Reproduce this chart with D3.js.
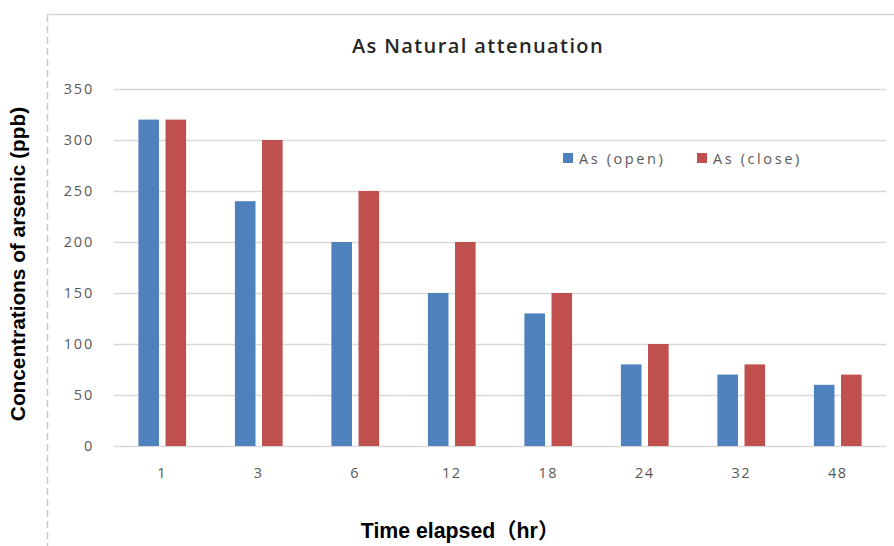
<!DOCTYPE html>
<html>
<head>
<meta charset="utf-8">
<script src="https://cdn.jsdelivr.net/npm/d3@7"></script>
<style>
  html, body { margin: 0; padding: 0; background: #fff; }
  svg { display: block; }
</style>
</head>
<body>
<svg id="chart" width="894" height="546"></svg>
<script>
// Arsenic concentration over time, open vs. closed vessels
const categories = ["1", "3", "6", "12", "18", "24", "32", "48"];
const seriesNames = ["As (open)", "As (close)"];
const openValues = [320, 240, 200, 150, 130, 80, 70, 60];
const closeValues = [320, 300, 250, 200, 150, 100, 80, 70];
const yTicks = [0, 50, 100, 150, 200, 250, 300, 350];
const colors = ["#4f81bd", "#c0504d"];

const rows = categories.map((c, i) => ({ cat: c, values: [openValues[i], closeValues[i]] }));

const svg = d3.select("#chart");
const W = 894, H = 546;
const plotLeft = 114, plotRight = 886, plotTop = 89, plotBottom = 446;
const labelFont = "'Open Sans', sans-serif";

// chart frame: dashed left edge and a thin top edge
svg.append("line")
  .attr("x1", 47.5).attr("x2", 47.5).attr("y1", 15).attr("y2", H)
  .attr("stroke", "#c8c8c8").attr("stroke-width", 1.5).attr("stroke-dasharray", "7,4");
svg.append("line")
  .attr("x1", 47).attr("x2", W).attr("y1", 14.5).attr("y2", 14.5)
  .attr("stroke", "#d9d9d9").attr("stroke-width", 1.5);

const x = d3.scaleBand().domain(categories).range([plotLeft, plotRight]).padding(0);
const x1 = d3.scaleBand().domain([0, 1]).range([0, x.bandwidth()]).paddingInner(0.24).paddingOuter(0.9);
const y = d3.scaleLinear().domain([0, 350]).range([plotBottom, plotTop]);

// horizontal gridlines with value labels
const yAxis = d3.axisLeft(y).tickValues(yTicks).tickSize(-(plotRight - plotLeft)).tickPadding(20);
const gy = svg.append("g").attr("transform", `translate(${plotLeft},0)`).call(yAxis);
gy.select(".domain").remove();
gy.selectAll(".tick line").attr("stroke", "#d9d9d9").attr("stroke-width", 1.5);
gy.selectAll(".tick text")
  .attr("fill", "#595959").attr("font-family", labelFont).attr("font-size", 14.5)
  .attr("letter-spacing", 1.8).attr("dy", "0.3em");

// bars
const groups = svg.append("g").selectAll("g").data(rows).join("g")
  .attr("transform", d => `translate(${x(d.cat)},0)`);
groups.selectAll("rect").data(d => d.values.map((v, k) => ({ v, k }))).join("rect")
  .attr("x", d => x1(d.k))
  .attr("width", x1.bandwidth())
  .attr("y", d => y(d.v))
  .attr("height", d => plotBottom - y(d.v))
  .attr("fill", d => colors[d.k]);

// category labels
const xAxis = d3.axisBottom(x).tickSize(0).tickPadding(22);
const gx = svg.append("g").attr("transform", `translate(0,${plotBottom})`).call(xAxis);
gx.select(".domain").remove();
gx.selectAll(".tick text")
  .attr("fill", "#595959").attr("font-family", labelFont).attr("font-size", 14.5)
  .attr("letter-spacing", 1.5);

// title
svg.append("text")
  .attr("x", 478).attr("y", 53).attr("text-anchor", "middle")
  .attr("font-family", labelFont).attr("font-size", 20).attr("font-weight", 600)
  .attr("letter-spacing", 1.4)
  .attr("fill", "#262626").text("As Natural attenuation");

// legend
const legend = svg.append("g");
const legendX = [563, 697];
seriesNames.forEach((name, k) => {
  legend.append("rect").attr("x", legendX[k]).attr("y", 153).attr("width", 10).attr("height", 10)
    .attr("fill", colors[k]);
  legend.append("text").attr("x", legendX[k] + 16).attr("y", 163.5)
    .attr("font-family", labelFont).attr("font-size", 14.5).attr("letter-spacing", 2.6)
    .attr("fill", "#595959").text(name);
});

// axis titles
svg.append("text")
  .attr("transform", "translate(25,264) rotate(-90)")
  .attr("text-anchor", "middle")
  .attr("font-family", "'Liberation Sans', Arial, sans-serif").attr("font-weight", "bold")
  .attr("font-size", 20.8).attr("fill", "#000")
  .text("Concentrations of arsenic (ppb)");

svg.append("text")
  .attr("x", 460).attr("y", 538).attr("text-anchor", "middle")
  .attr("font-family", "'Liberation Sans', Arial, 'Noto Sans CJK SC', sans-serif").attr("font-weight", "bold")
  .attr("font-size", 21.3).attr("fill", "#000")
  .text("Time elapsed（hr）");
</script>
</body>
</html>
